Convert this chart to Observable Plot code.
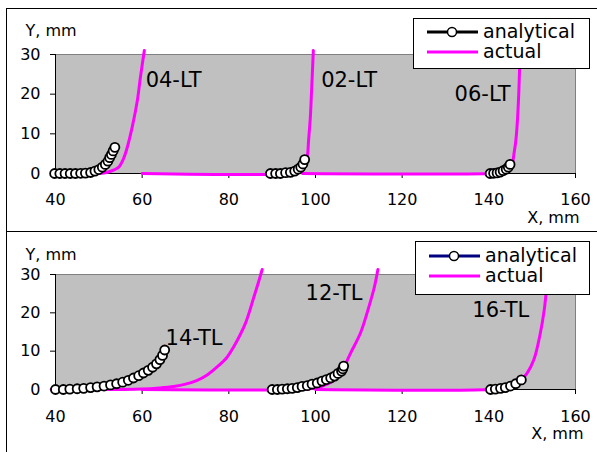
<!DOCTYPE html>
<html><head><meta charset="utf-8">
<script src="https://cdn.jsdelivr.net/npm/d3@7"></script>
<script src="https://cdn.jsdelivr.net/npm/@observablehq/plot@0.6"></script>
<style>
body{margin:0;background:#fff;font-family:"DejaVu Sans",sans-serif;}
#wrap{position:relative;width:597px;height:452px;overflow:hidden;background:#fff}
#wrap > *{position:absolute}
</style>
</head><body><div id="wrap"></div>
<script>
// ---------- data ----------
const xTicks = [40, 60, 80, 100, 120, 140, 160];
const yTicks = [0, 10, 20, 30];
const seriesNames = ["analytical", "actual"];

// top panel (LT)
const lt04AnaX = [39.8, 41, 42.2, 43.4, 44.6, 45.8, 46.9, 48.1, 49.1, 50.0, 50.8, 51.5, 52.1, 52.5, 52.9, 53.3, 53.7];
const lt04AnaY = [0, 0, 0, 0, 0, 0.05, 0.1, 0.25, 0.6, 1.0, 1.6, 2.3, 3.1, 4.0, 4.8, 5.7, 6.6];
const lt04ActX = [50, 52, 53.5, 54.6, 55.6, 56.4, 57.7, 58.9, 59.6, 60.5];
const lt04ActY = [0, 0.3, 0.9, 1.6, 3.5, 6, 11.7, 18.5, 24.3, 31];

const lt02AnaX = [89.6, 90.8, 91.9, 93.1, 94.2, 95.2, 96.0, 96.6, 97.1, 97.5];
const lt02AnaY = [0, 0, 0, 0.2, 0.3, 0.6, 1.1, 1.6, 2.4, 3.5];
const lt02ActX = [60, 95, 96.5, 97.3, 97.8, 98.2, 98.4, 98.8, 99.1, 99.5];
const lt02ActY = [0, 0, 0.4, 1.2, 2.5, 5, 8.3, 14, 21, 31];

const lt06AnaX = [140.3, 141.1, 141.9, 142.6, 143.3, 144.0, 144.5, 144.9];
const lt06AnaY = [0, 0.05, 0.15, 0.35, 0.7, 1.1, 1.6, 2.3];
const lt06ActX = [97, 140, 143, 144.6, 145.4, 145.8, 146.2, 146.5, 146.9, 147.2];
const lt06ActY = [0, 0, 0.3, 1.0, 2.4, 5, 8, 11.7, 20, 31];

const topLabels = ["04-LT", "02-LT", "06-LT"];
const topLabelX = [60.8, 101.3, 132.1];
const topLabelY = [23.4, 23.4, 20.1];

// bottom panel (TL)
const tl14AnaX = [40, 41.8, 43.3, 45, 46.5, 48.1, 49.6, 51.2, 52.7, 54.1, 55.5, 56.8, 58, 59.2, 60.3, 61.4, 62.4, 63.3, 64.1, 64.7, 65.2];
const tl14AnaY = [0, 0, 0.1, 0.2, 0.3, 0.5, 0.7, 0.9, 1.2, 1.5, 1.9, 2.4, 3.0, 3.6, 4.3, 5.0, 5.8, 6.7, 7.8, 8.9, 10.3];
const tl14ActX = [39, 55, 60, 64, 67.3, 70, 72.7, 75, 77.3, 79.5, 81.1, 83.8, 85.8, 86.9, 87.7];
const tl14ActY = [0, 0, 0.1, 0.4, 0.8, 1.4, 2.4, 3.8, 5.9, 8.3, 11.1, 17.2, 24.2, 28.2, 31.3];

const tl12AnaX = [90, 91.2, 92.3, 93.5, 94.6, 95.8, 96.9, 98.1, 99.2, 100.4, 101.5, 102.5, 103.5, 104.4, 105.2, 106, 106.3, 106.5];
const tl12AnaY = [0, 0, 0.1, 0.2, 0.3, 0.5, 0.8, 1.0, 1.4, 1.7, 2.2, 2.6, 3.0, 3.5, 4.2, 4.8, 5.4, 6.1];
const tl12ActX = [60, 95, 100, 103, 105, 106.3, 107, 108.1, 110.4, 112.3, 113.6, 114.4];
const tl12ActY = [0, 0, 0.4, 1.5, 3, 5, 6.8, 9.5, 14.8, 21.5, 26.8, 31.3];

const tl16AnaX = [140.4, 141.5, 142.7, 143.8, 145, 146.2, 147.5];
const tl16AnaY = [0, 0.1, 0.3, 0.5, 0.9, 1.5, 2.5];
const tl16ActX = [100, 140, 144, 146.5, 148.8, 150.4, 151.9, 152.8, 153.3, 153.8];
const tl16ActY = [0, 0, 0.5, 1.5, 4.2, 7.8, 14.8, 20.9, 26.1, 31];

const bottomLabels = ["14-TL", "12-TL", "16-TL"];
const bottomLabelX = [65.4, 97.7, 136.2];
const bottomLabelY = [13.4, 25.1, 20.8];

// ---------- helpers ----------
const pts = (xs, ys, id) => xs.map((x, i) => ({x, y: ys[i], id}));
const FONT = "DejaVu Sans";

function panel({ana, act, labels, lx, ly, anaColor, mTop, mBottom, tickPad, yLabDy, xLabDx, xLabDy}) {
  const anaData = ana.flatMap(([xs, ys], k) => pts(xs, ys, k));
  const actData = act.flatMap(([xs, ys], k) => pts(xs, ys, k));
  const lab = labels.map((t, i) => ({t, x: lx[i], y: ly[i]}));
  return Plot.plot({
    width: 597, height: 226,
    marginLeft: 55, marginRight: 22, marginTop: mTop, marginBottom: mBottom,
    style: {fontFamily: FONT, fontSize: "16px", background: "transparent", color: "black", overflow: "visible"},
    x: {domain: [40, 160]},
    y: {domain: [0, 30]},
    marks: [
      Plot.frame({fill: "#c0c0c0", stroke: "#808080"}),
      Plot.ruleX([40], {stroke: "black", strokeWidth: 1}),
      Plot.ruleY([0], {stroke: "black", strokeWidth: 1}),
      Plot.axisX({ticks: xTicks, tickSize: 5, tickPadding: tickPad, label: null, fontSize: 16, stroke: "black"}),
      Plot.axisY({ticks: yTicks, tickSize: 5, tickPadding: 10, label: null, fontSize: 16, stroke: "black"}),
      Plot.line(actData, {x: "x", y: "y", z: "id", stroke: "#ff00ff", strokeWidth: 3, curve: "catmull-rom"}),
      Plot.line(anaData, {x: "x", y: "y", z: "id", stroke: anaColor, strokeWidth: 2}),
      Plot.dot(anaData, {x: "x", y: "y", r: 4.5, fill: "white", stroke: "black", strokeWidth: 1.8}),
      Plot.text(lab, {x: "x", y: "y", text: "t", textAnchor: "start", lineAnchor: "middle", fontSize: 21, fill: "black"}),
      Plot.text(["Y, mm"], {frameAnchor: "top-left", dx: -30, dy: yLabDy, textAnchor: "start", lineAnchor: "middle", fontSize: 16, fill: "black"}),
      Plot.text(["X, mm"], {frameAnchor: "bottom-right", dx: xLabDx, dy: xLabDy, textAnchor: "end", lineAnchor: "middle", fontSize: 16, fill: "black"})
    ]
  });
}

function legend(left, top, w, h, anaColor, r1, r2) {
  const svg = d3.create("svg").attr("width", w + 1).attr("height", h + 1)
    .style("left", left + "px").style("top", top + "px").style("position", "absolute");
  svg.append("rect").attr("x", 0.5).attr("y", 0.5).attr("width", w).attr("height", h)
    .attr("fill", "white").attr("stroke", "black");
  const rows = [r1, r2];
  const colors = [anaColor, "#ff00ff"];
  seriesNames.forEach((n, i) => {
    svg.append("line").attr("x1", 14).attr("x2", 65).attr("y1", rows[i]).attr("y2", rows[i])
      .attr("stroke", colors[i]).attr("stroke-width", 3);
    if (i === 0) svg.append("circle").attr("cx", 39).attr("cy", rows[i]).attr("r", 4.5)
      .attr("fill", "white").attr("stroke", "black").attr("stroke-width", 1.5);
    svg.append("text").attr("x", 70).attr("y", rows[i] + 6).attr("font-family", FONT)
      .attr("font-size", 19).attr("fill", "black").text(n);
  });
  return svg.node();
}

// ---------- build ----------
const wrap = document.getElementById("wrap");

const frameBox = document.createElement("div");
Object.assign(frameBox.style, {left: "6px", top: "8px", width: "600px", height: "450px",
  borderLeft: "1px solid black", borderTop: "1px solid black"});
wrap.appendChild(frameBox);
const divider = document.createElement("div");
Object.assign(divider.style, {left: "6px", top: "231px", width: "600px", height: "1px", background: "black"});
wrap.appendChild(divider);

const top1 = panel({
  ana: [[lt04AnaX, lt04AnaY], [lt02AnaX, lt02AnaY], [lt06AnaX, lt06AnaY]],
  act: [[lt04ActX, lt04ActY], [lt02ActX, lt02ActY], [lt06ActX, lt06ActY]],
  labels: topLabels, lx: topLabelX, ly: topLabelY, anaColor: "black",
  mTop: 54, mBottom: 53, tickPad: 15, yLabDy: -24, xLabDx: 4, xLabDy: 44
});
top1.style.left = "0px"; top1.style.top = "0px";
wrap.appendChild(top1);

const bot = panel({
  ana: [[tl14AnaX, tl14AnaY], [tl12AnaX, tl12AnaY], [tl16AnaX, tl16AnaY]],
  act: [[tl14ActX, tl14ActY], [tl12ActX, tl12ActY], [tl16ActX, tl16ActY]],
  labels: bottomLabels, lx: bottomLabelX, ly: bottomLabelY, anaColor: "#000080",
  mTop: 48, mBottom: 63, tickPad: 16, yLabDy: -20, xLabDx: 8, xLabDy: 44
});
bot.style.left = "0px"; bot.style.top = "226px";
wrap.appendChild(bot);

wrap.appendChild(legend(413, 18, 176, 50, "black", 14, 34));
wrap.appendChild(legend(415, 241, 174, 53, "#000080", 15, 35));
</script>
</body></html>
